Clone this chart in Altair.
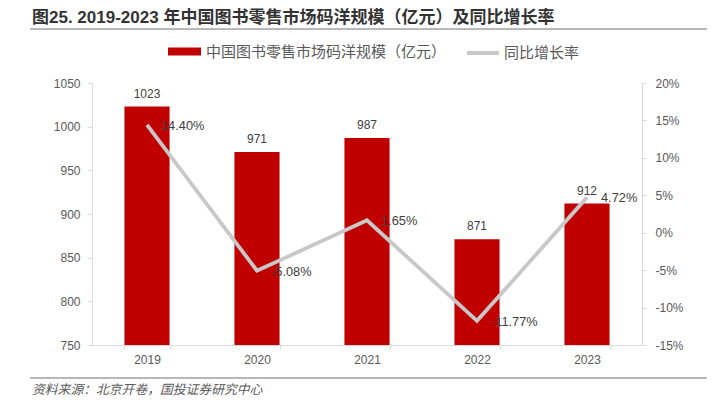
import altair as alt
import pandas as pd

# ---- data ----
years = ["2019", "2020", "2021", "2022", "2023"]
market_size = [1023, 971, 987, 871, 912]          # 亿元
yoy_growth = [14.40, -5.08, 1.65, -11.77, 4.72]   # %
left_ticks = [750, 800, 850, 900, 950, 1000, 1050]
right_ticks = [-15, -10, -5, 0, 5, 10, 15, 20]

bar_name = "中国图书零售市场码洋规模（亿元）"
line_name = "同比增长率"
title_text = "图25. 2019-2023 年中国图书零售市场码洋规模（亿元）及同比增长率"
source_text = "资料来源：北京开卷，国投证券研究中心"

df = pd.DataFrame({"year": years, "size": market_size, "growth": yoy_growth})
df["size_label"] = df["size"].astype(str)
df["growth_label"] = [f"{v:.2f}%" for v in yoy_growth]
df["s1"] = bar_name
df["s2"] = line_name

W, H = 550, 262
FONT = "Liberation Sans, Arial, Noto Sans CJK SC, sans-serif"
CJK = "Noto Sans CJK SC, Liberation Sans, sans-serif"
AXIS_GRAY = "#D9D9D9"
LABEL_GRAY = "#595959"
RED = "#C00000"
LINE_GRAY = "#C8C8C8"
SEP_GRAY = "#A0A0A0"

x_axis = alt.Axis(labelAngle=0, labelFontSize=12, labelColor=LABEL_GRAY, labelFont=FONT,
                  domainColor=AXIS_GRAY, tickColor=AXIS_GRAY, tickBand="extent",
                  tickSize=4, labelPadding=5)
x_scale = alt.Scale(paddingInner=0.59, paddingOuter=0.295)

left_axis = alt.Axis(values=left_ticks, title=None, grid=False, orient="left",
                     labelExpr="'' + datum.value", labelOverlap=False,
                     labelFontSize=12, labelColor=LABEL_GRAY, labelFont=FONT,
                     domainColor=AXIS_GRAY, tickColor=AXIS_GRAY, tickSize=4,
                     labelPadding=8)
right_axis = alt.Axis(values=right_ticks, title=None, grid=False, orient="right",
                      labelExpr="datum.value + '%'", labelOverlap=False,
                      labelFontSize=12, labelColor=LABEL_GRAY, labelFont=FONT,
                      domainColor=AXIS_GRAY, tickColor=AXIS_GRAY, tickSize=4,
                      labelPadding=9)

def xenc():
    return alt.X("year:N", sort=years, title=None, scale=x_scale, axis=x_axis)

base = alt.Chart(df)

left_scale = alt.Scale(domain=[750, 1050], zero=False, nice=False)
right_scale = alt.Scale(domain=[-15, 20], zero=False, nice=False)

bars = base.mark_bar().encode(
    x=xenc(),
    y=alt.Y("size:Q", scale=left_scale, axis=left_axis, title=None),
    y2=alt.datum(750),
    fill=alt.Fill("s1:N", scale=alt.Scale(domain=[bar_name], range=[RED]),
                  legend=alt.Legend(title=None, orient="none", legendX=76, legendY=-48,
                                    symbolType="M-1,-0.24H1V0.24H-1Z", symbolSize=1089,
                                    symbolStrokeWidth=0, labelFontSize=15, labelFont=CJK,
                                    labelColor=LABEL_GRAY, labelOffset=5, padding=0,
                                    labelLimit=0)),
)

bar_labels = base.mark_text(baseline="middle", dy=-13, fontSize=12, font=FONT,
                            color="#404040").encode(
    x=xenc(),
    y=alt.Y("size:Q", scale=left_scale, axis=left_axis, title=None),
    text="size_label:N",
)

line = base.mark_line(strokeWidth=3.8).encode(
    x=xenc(),
    y=alt.Y("growth:Q", scale=right_scale, axis=right_axis, title=None),
    stroke=alt.Stroke("s2:N", scale=alt.Scale(domain=[line_name], range=[LINE_GRAY]),
                      legend=alt.Legend(title=None, orient="none", legendX=373, legendY=-48,
                                        symbolType="M-1,0H1", symbolSize=1024,
                                        symbolStrokeWidth=4, labelFontSize=15,
                                        labelFont=CJK, labelColor=LABEL_GRAY,
                                        labelOffset=3, padding=0, labelLimit=0)),
)

line_labels = base.mark_text(align="left", baseline="middle", dx=14, dy=1, fontSize=12.8,
                             font=FONT, color="#404040").encode(
    x=xenc(),
    y=alt.Y("growth:Q", scale=right_scale, axis=right_axis, title=None),
    text="growth_label:N",
)

one = alt.Chart(pd.DataFrame({"k": [0]}))

title_mark = one.mark_text(align="left", baseline="middle", fontSize=17, fontWeight="bold",
                           font=FONT, color="#333333").encode(
    x=alt.value(-60), y=alt.value(-65), text=alt.value(title_text))

footer_text = one.mark_text(align="left", baseline="middle", fontSize=12.8, fontStyle="italic",
                            font=CJK, color=LABEL_GRAY).encode(
    x=alt.value(-60), y=alt.value(306.7), text=alt.value(source_text))

title_rule = one.mark_rule(strokeWidth=1.5).encode(
    x=alt.value(-62), x2=alt.value(615), y=alt.value(-54), y2=alt.value(-54),
    color=alt.value(SEP_GRAY))

footer_rule = one.mark_rule(strokeWidth=1.5).encode(
    x=alt.value(-62), x2=alt.value(620), y=alt.value(295), y2=alt.value(295),
    color=alt.value(SEP_GRAY))

left = alt.layer(bars, bar_labels)
right = alt.layer(line, line_labels)
main = alt.layer(left, right).resolve_scale(y="independent")

chart = alt.layer(main, title_mark, footer_text, title_rule, footer_rule).resolve_scale(
    x="independent", y="independent"
).properties(
    width=W, height=H,
    autosize=alt.AutoSizeParams(type="none"),
    padding={"left": 84, "top": 75, "right": 65, "bottom": 55},
).configure_view(stroke=None)

chart.save("out.html", embed_options={"renderer": "svg", "actions": False})
